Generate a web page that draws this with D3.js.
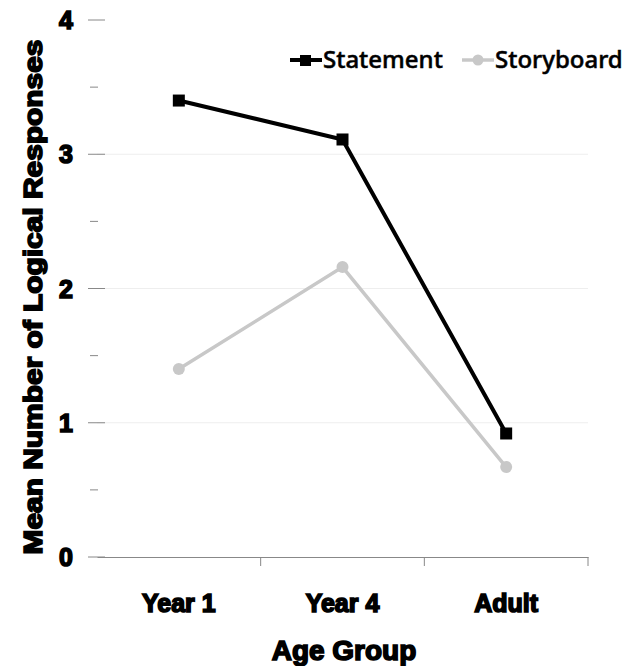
<!DOCTYPE html>
<html>
<head>
<meta charset="utf-8">
<script src="https://cdn.jsdelivr.net/npm/d3@7"></script>
<style>
  body { margin: 0; background: #fff; }
  svg { display: block; }
</style>
</head>
<body>
<svg id="chart" width="631" height="666"></svg>
<script>
// chart data
const ageGroups = ["Year 1", "Year 4", "Adult"];
const statementValues = [3.40, 3.11, 0.92];
const storyboardValues = [1.40, 2.16, 0.67];
const seriesNames = ["Statement", "Storyboard"];
const yTicks = [0, 1, 2, 3, 4];
const yMinorTicks = [0.5, 1.5, 2.5, 3.5];

const margin = { left: 97, right: 43, top: 20, bottom: 109 };
const width = 631, height = 666;
const svg = d3.select("#chart");

const x = d3.scaleBand()
  .domain(ageGroups)
  .range([margin.left, width - margin.right]);
const y = d3.scaleLinear()
  .domain([0, 4])
  .range([height - margin.bottom, margin.top]);

const boldFont = "'Liberation Sans', Arial, sans-serif";

// gridlines
svg.append("g")
  .selectAll("line")
  .data(yTicks.filter(d => d > 0 && d < 4))
  .join("line")
  .attr("x1", margin.left)
  .attr("x2", width - margin.right)
  .attr("y1", d => y(d))
  .attr("y2", d => y(d))
  .attr("stroke", "#eeeeee")
  .attr("stroke-width", 1);

// y axis ticks (no spine)
const yAxis = svg.append("g");
yAxis.selectAll("line.major")
  .data(yTicks)
  .join("line")
  .attr("class", "major")
  .attr("x1", margin.left - 9)
  .attr("x2", margin.left + 8)
  .attr("y1", d => y(d))
  .attr("y2", d => y(d))
  .attr("stroke", "#888")
  .attr("stroke-width", 1);
yAxis.selectAll("line.minor")
  .data(yMinorTicks)
  .join("line")
  .attr("class", "minor")
  .attr("x1", margin.left - 7)
  .attr("x2", margin.left + 1)
  .attr("y1", d => y(d))
  .attr("y2", d => y(d))
  .attr("stroke", "#888")
  .attr("stroke-width", 1);
yAxis.selectAll("text")
  .data(yTicks)
  .join("text")
  .attr("x", 73)
  .attr("y", d => y(d))
  .attr("dy", "0.36em")
  .attr("text-anchor", "end")
  .attr("font-family", boldFont)
  .attr("font-weight", "bold")
  .attr("font-size", 25)
  .attr("stroke", "#000")
  .attr("stroke-width", 1.6)
  .text(d => d);

// x axis
const xAxis = d3.axisBottom(x).tickSize(0).tickFormat("");
svg.append("g")
  .attr("transform", `translate(0,${y(0)})`)
  .call(xAxis)
  .call(g => g.select(".domain").attr("stroke", "#888"));
svg.append("g")
  .selectAll("line")
  .data(ageGroups)
  .join("line")
  .attr("x1", d => x(d) + x.bandwidth())
  .attr("x2", d => x(d) + x.bandwidth())
  .attr("y1", y(0))
  .attr("y2", y(0) + 9)
  .attr("stroke", "#888");
svg.append("g")
  .selectAll("text")
  .data(ageGroups)
  .join("text")
  .attr("x", d => x(d) + x.bandwidth() / 2)
  .attr("y", 612)
  .attr("text-anchor", "middle")
  .attr("font-family", boldFont)
  .attr("font-weight", "bold")
  .attr("font-size", 25)
  .attr("stroke", "#000")
  .attr("stroke-width", 1.6)
  .text(d => d);

// axis titles
svg.append("text")
  .attr("x", 344)
  .attr("y", 660)
  .attr("text-anchor", "middle")
  .attr("font-family", boldFont)
  .attr("font-weight", "bold")
  .attr("font-size", 28)
  .attr("stroke", "#000")
  .attr("stroke-width", 1.6)
  .text("Age Group");
svg.append("text")
  .attr("transform", "translate(42,297) rotate(-90)")
  .attr("text-anchor", "middle")
  .attr("font-family", boldFont)
  .attr("font-weight", "bold")
  .attr("font-size", 25)
  .attr("stroke", "#000")
  .attr("stroke-width", 1.6)
  .attr("textLength", 515)
  .attr("lengthAdjust", "spacingAndGlyphs")
  .text("Mean Number of Logical Responses");

// series
const cx = d => x(d) + x.bandwidth() / 2;
const line = d3.line()
  .x(d => cx(d.group))
  .y(d => y(d.value));

const statementData = ageGroups.map((g, i) => ({ group: g, value: statementValues[i] }));
const storyboardData = ageGroups.map((g, i) => ({ group: g, value: storyboardValues[i] }));

svg.append("path")
  .datum(storyboardData)
  .attr("d", line)
  .attr("fill", "none")
  .attr("stroke", "#c8c8c8")
  .attr("stroke-width", 3.5);
svg.append("g")
  .selectAll("circle")
  .data(storyboardData)
  .join("circle")
  .attr("cx", d => cx(d.group))
  .attr("cy", d => y(d.value))
  .attr("r", 6)
  .attr("fill", "#c8c8c8");

svg.append("path")
  .datum(statementData)
  .attr("d", line)
  .attr("fill", "none")
  .attr("stroke", "#000")
  .attr("stroke-width", 4);
svg.append("g")
  .selectAll("rect")
  .data(statementData)
  .join("rect")
  .attr("x", d => cx(d.group) - 6)
  .attr("y", d => y(d.value) - 6)
  .attr("width", 12)
  .attr("height", 12)
  .attr("fill", "#000");

// legend
const legend = svg.append("g").attr("font-family", "'Noto Sans', 'Open Sans', sans-serif");
const legendX = [290, 462];
const legendColors = ["#000", "#c8c8c8"];
seriesNames.forEach((name, i) => {
  const g = legend.append("g").attr("transform", `translate(${legendX[i]},60)`);
  g.append("line")
    .attr("x1", 0).attr("x2", 32)
    .attr("stroke", legendColors[i])
    .attr("stroke-width", i === 0 ? 4 : 3.5);
  if (i === 0) {
    g.append("rect").attr("x", 10).attr("y", -5).attr("width", 11).attr("height", 11).attr("fill", "#000");
  } else {
    g.append("circle").attr("cx", 16).attr("r", 5.5).attr("fill", legendColors[i]);
  }
  g.append("text")
    .attr("x", 33)
    .attr("dy", "0.35em")
    .attr("font-size", 24)
    .attr("font-weight", 500)
    .attr("stroke", "#000")
    .attr("stroke-width", 0.5)
    .attr("fill", "#000")
    .text(name);
});
</script>
</body>
</html>
